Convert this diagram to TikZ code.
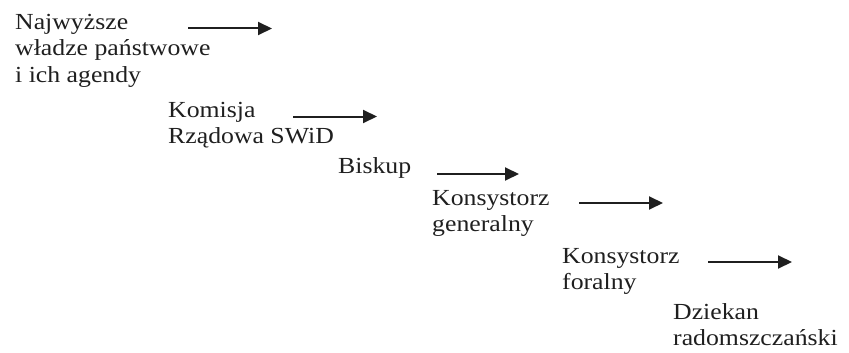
\documentclass[tikz,border=0pt]{standalone}
\usepackage{fontspec}
\setmainfont{Liberation Serif}[FakeStretch=1.12]
\usepackage{xcolor}
\usepackage{tikz}
\usetikzlibrary{arrows.meta}

\begin{document}
\begin{tikzpicture}[x=1pt, y=-1pt,
  lvl/.style={anchor=base west, inner sep=0pt, align=left, text=black!88,
    font=\fontsize{23}{26.5}\selectfont},
  arrowline/.style={draw=black!88, line width=2pt,
    -{Triangle[length=14pt, width=13pt]}}]
\useasboundingbox (0,0) rectangle (849,353);

% nodes sit on the baseline of their last line
\node[lvl] (wladze)   at (15,82)  {Najwyższe\\władze państwowe\\i ich agendy};
\node[lvl] (komisja)  at (168,143.5) {Komisja\\Rządowa SWiD};
\node[lvl] (biskup)   at (338,173) {Biskup};
\node[lvl] (generalny) at (432,231.5) {Konsystorz\\generalny};
\node[lvl] (foralny)  at (562,289.5) {Konsystorz\\foralny};
\node[lvl] (dziekan)  at (673,345.5) {Dziekan\\radomszczański};

\coordinate (w1) at (188,28.5);  \coordinate (w2) at (272,28.5);
\coordinate (k1) at (293,116.5); \coordinate (k2) at (377,116.5);
\coordinate (b1) at (437,174);   \coordinate (b2) at (519,174);
\coordinate (g1) at (579,203);   \coordinate (g2) at (663,203);
\coordinate (f1) at (708,262);   \coordinate (f2) at (792,262);

\draw[arrowline] (w1) -- (w2);
\draw[arrowline] (k1) -- (k2);
\draw[arrowline] (b1) -- (b2);
\draw[arrowline] (g1) -- (g2);
\draw[arrowline] (f1) -- (f2);
\end{tikzpicture}
\end{document}
